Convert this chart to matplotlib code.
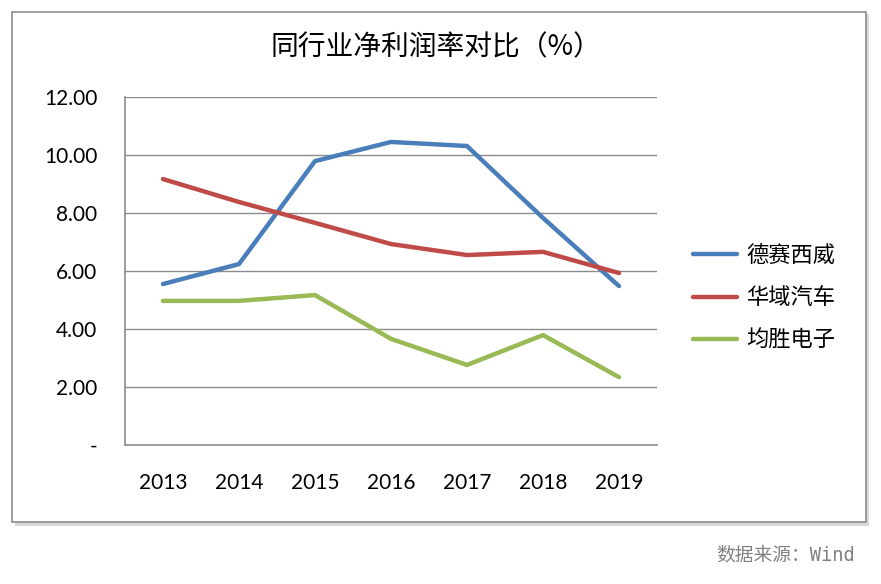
import numpy as np
import matplotlib.pyplot as plt
from matplotlib.patches import Rectangle

plt.rcParams['font.family'] = ['Noto Sans CJK SC', 'DejaVu Sans']

years = ['2013', '2014', '2015', '2016', '2017', '2018', '2019']
desay = [5.55, 6.24, 9.79, 10.45, 10.31, 7.83, 5.48]
huayu = [9.17, 8.38, 7.66, 6.93, 6.55, 6.66, 5.93]
junsheng = [4.97, 4.97, 5.17, 3.66, 2.76, 3.79, 2.34]
names = ['德赛西威', '华域汽车', '均胜电子']
colors = ['#4A7EBB', '#BE4B48', '#98B954']
yticks = [0, 2, 4, 6, 8, 10, 12]

fig = plt.figure(figsize=(8.81, 5.84), dpi=100)
fig.patch.set_facecolor('white')

# outer chart frame with a light shadow
fig.patches.append(Rectangle((15 / 881, 1 - 526 / 584), 854 / 881, 512 / 584,
                             transform=fig.transFigure, facecolor='#d9d9d9',
                             edgecolor='none', zorder=0))
fig.patches.append(Rectangle((12 / 881, 1 - 522 / 584), 854 / 881, 510 / 584,
                             transform=fig.transFigure, facecolor='white',
                             edgecolor='#8c8c8c', linewidth=1.2, zorder=1))

ax = fig.add_axes([125 / 881, 1 - 445 / 584, 532 / 881, 348 / 584])
ax.set_zorder(2)
ax.patch.set_alpha(0)
x = np.arange(len(years))
for vals, name, c in zip([desay, huayu, junsheng], names, colors):
    ax.plot(x, vals, color=c, linewidth=3.2, label=name, solid_capstyle='round')

ax.set_xlim(-0.5, len(years) - 0.5)
ax.set_ylim(0, 12)
ax.set_yticks(yticks)
ax.set_yticklabels(['-'] + ['%.2f' % v for v in yticks[1:]], family=['Lato', 'DejaVu Sans'], fontsize=15)
ax.set_xticks(x)
ax.set_xticklabels(years, family=['Lato', 'DejaVu Sans'], fontsize=15)
ax.tick_params(length=0)
ax.tick_params(axis='y', pad=20)
ax.tick_params(axis='x', pad=20)
ax.grid(axis='y', color='#8c8c8c', linewidth=1)
ax.set_axisbelow(True)
for s in ['top', 'right']:
    ax.spines[s].set_visible(False)
for s in ['left', 'bottom']:
    ax.spines[s].set_color('#8c8c8c')
    ax.spines[s].set_linewidth(1.2)

fig.text(436 / 881, 1 - 47 / 584, '同行业净利润率对比（%）', ha='center', va='center',
         fontsize=20, fontweight='medium', color='black')

leg = ax.legend(loc='center left', bbox_to_anchor=(1.03, 0.423), frameon=False,
                fontsize=16, handlelength=2.0, labelspacing=0.88, handletextpad=0.4)

fig.text(855 / 881, 1 - 555 / 584, '数据来源：Wind', ha='right', va='center',
         fontsize=13.5, color='#808080', family=['DejaVu Sans Mono', 'Noto Sans CJK SC'])

fig.savefig('out.png', dpi=100)
